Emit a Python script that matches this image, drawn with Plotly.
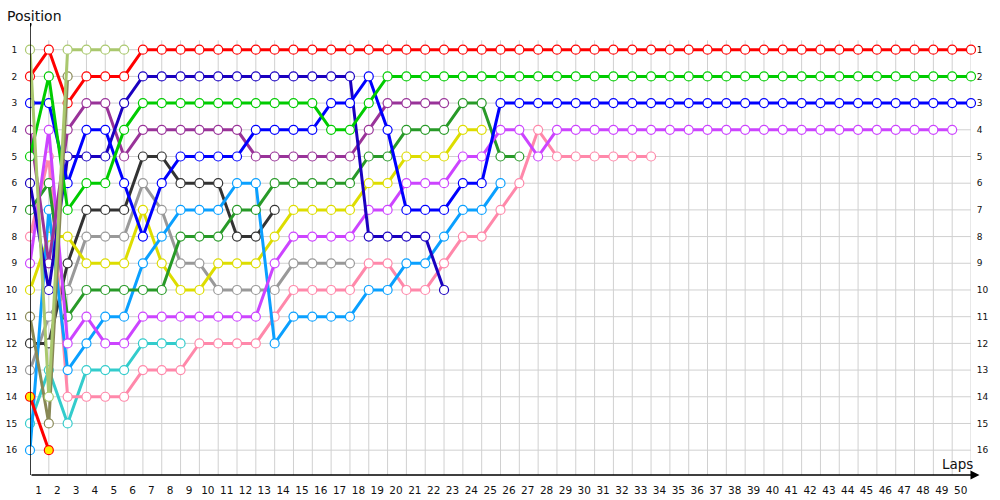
import plotly.graph_objects as go

# ---------------- data ----------------
laps = list(range(0, 51))                      # lap 0 = starting grid
lap_labels = [str(k) for k in range(1, 51)]
positions = list(range(1, 17))

# position per lap, starting at lap 0, until the driver's last lap
red_a = [2, 1, 3, 2, 2, 2, 1, 1, 1, 1, 1, 1, 1, 1, 1, 1, 1, 1, 1, 1, 1, 1, 1, 1, 1, 1,
         1, 1, 1, 1, 1, 1, 1, 1, 1, 1, 1, 1, 1, 1, 1, 1, 1, 1, 1, 1, 1, 1, 1, 1, 1]
green = [5, 2, 7, 6, 6, 4, 3, 3, 3, 3, 3, 3, 3, 3, 3, 3, 4, 4, 3, 2, 2, 2, 2, 2, 2, 2,
         2, 2, 2, 2, 2, 2, 2, 2, 2, 2, 2, 2, 2, 2, 2, 2, 2, 2, 2, 2, 2, 2, 2, 2, 2]
blue = [3, 3, 6, 4, 4, 6, 8, 6, 5, 5, 5, 5, 4, 4, 4, 4, 3, 3, 2, 4, 7, 7, 7, 6, 6, 3,
        3, 3, 3, 3, 3, 3, 3, 3, 3, 3, 3, 3, 3, 3, 3, 3, 3, 3, 3, 3, 3, 3, 3, 3, 3]
violet = [9, 4, 12, 11, 12, 12, 11, 11, 11, 11, 11, 11, 11, 9, 8, 8, 8, 8, 7, 7, 6, 6, 6,
          5, 5, 4, 4, 5, 4, 4, 4, 4, 4, 4, 4, 4, 4, 4, 4, 4, 4, 4, 4, 4, 4, 4, 4, 4, 4, 4]
pink = [8, 5, 14, 14, 14, 14, 13, 13, 13, 12, 12, 12, 12, 11, 10, 10, 10, 10, 9, 9, 10,
        10, 9, 8, 8, 7, 6, 4, 5, 5, 5, 5, 5, 5]
dark_green = [7, 6, 11, 10, 10, 10, 10, 10, 8, 8, 8, 7, 7, 6, 6, 6, 6, 6, 5, 5, 4, 4, 4,
              3, 3, 5, 5]
light_blue = [16, 7, 13, 12, 11, 11, 9, 8, 7, 7, 7, 6, 6, 12, 11, 11, 11, 11, 10, 10, 9,
              9, 8, 7, 7, 6]
yellow = [10, 8, 8, 9, 9, 9, 7, 9, 10, 10, 9, 9, 9, 8, 7, 7, 7, 7, 6, 6, 5, 5, 5, 4, 4]
purple = [4, 9, 4, 3, 3, 5, 4, 4, 4, 4, 4, 4, 5, 5, 5, 5, 5, 5, 4, 3, 3, 3, 3]
navy = [6, 10, 5, 5, 5, 3, 2, 2, 2, 2, 2, 2, 2, 2, 2, 2, 2, 2, 8, 8, 8, 8, 10]
grey = [13, 11, 10, 8, 8, 8, 6, 7, 9, 9, 10, 10, 10, 10, 9, 9, 9, 9]
black = [12, 12, 9, 7, 7, 7, 5, 5, 6, 6, 6, 8, 8, 7]
teal = [15, 13, 15, 13, 13, 13, 12, 12, 12]
light_olive = [1, 14, 1, 1, 1, 1]
olive = [11, 15, 2]
red_b = [14, 16]

series = [
    ("teal", teal, "#33cccc", "white"),
    ("grey", grey, "#999999", "white"),
    ("black", black, "#333333", "white"),
    ("yellow", yellow, "#dddd00", "white"),
    ("pink", pink, "#ff88aa", "white"),
    ("light_blue", light_blue, "#0aa0ff", "white"),
    ("dark_green", dark_green, "#289a28", "white"),
    ("violet", violet, "#cc44ff", "white"),
    ("purple", purple, "#993399", "white"),
    ("navy", navy, "#1a00c0", "white"),
    ("blue", blue, "#0000ff", "white"),
    ("green", green, "#00cc00", "white"),
    ("red_a", red_a, "#ff0000", "white"),
    ("red_b", red_b, "#ff0000", "#ffee00"),
    ("olive", olive, "#888855", "white"),
    ("light_olive", light_olive, "#aac86e", "white"),
]

Y_BOTTOM = 16.93
Y_TOP = 0.0

fig = go.Figure()
for name, vals, col, fill in series:
    fig.add_trace(go.Scatter(
        x=laps[:len(vals)], y=vals, mode="lines+markers", name=name,
        line=dict(color=col, width=3),
        marker=dict(symbol="circle", size=9, color=fill, line=dict(color=col, width=1.2)),
        cliponaxis=False, showlegend=False, hoverinfo="skip",
    ))

# helper trace so the right-hand axis is drawn
fig.add_trace(go.Scatter(x=[laps[0]], y=[positions[0]], yaxis="y2", mode="markers",
                         marker=dict(opacity=0), showlegend=False, hoverinfo="skip"))

shapes = []
grid_col = "#d0d0d0"
for k in laps:
    shapes.append(dict(type="line", xref="x", yref="y", x0=k, x1=k, y0=0.65, y1=Y_BOTTOM,
                       line=dict(color=grid_col, width=1), layer="below"))
for p in positions:
    shapes.append(dict(type="line", xref="x", yref="y", x0=0, x1=laps[-1], y0=p, y1=p,
                       line=dict(color=grid_col, width=1), layer="below"))
# y axis line
shapes.append(dict(type="line", xref="x", yref="y", x0=0, x1=0, y0=0.06, y1=Y_BOTTOM,
                   line=dict(color="black", width=1.5), layer="above"))
# small dot at the top of the y axis
shapes.append(dict(type="circle", xref="x", yref="y", x0=-0.08, x1=0.08, y0=-0.03, y1=0.15,
                   fillcolor="black", line=dict(width=0), layer="above"))

font_fam = "DejaVu Sans, Verdana, sans-serif"

annotations = [
    # x axis with arrow
    dict(x=50.45, y=Y_BOTTOM, xref="x", yref="y", ax=0, ay=Y_BOTTOM, axref="x", ayref="y",
         text="", showarrow=True, arrowhead=2, arrowsize=1.2, arrowwidth=1.5,
         arrowcolor="black"),
    dict(text="Position", xref="paper", yref="paper", x=-0.0266, y=1.016,
         xanchor="left", yanchor="middle", showarrow=False,
         font=dict(size=14, color="#111111", family=font_fam)),
    dict(text="Laps", xref="paper", yref="paper", x=1.004, y=0.024,
         xanchor="right", yanchor="middle", showarrow=False,
         font=dict(size=13.5, color="#111111", family=font_fam)),
]

fig.update_layout(
    width=1000, height=500,
    template="none",
    paper_bgcolor="white", plot_bgcolor="white",
    margin=dict(l=30, r=29, t=23, b=25),
    showlegend=False,
    shapes=shapes,
    annotations=annotations,
    xaxis=dict(range=[0, 50], showgrid=False, zeroline=False, showline=False,
               tickmode="array", tickvals=[k - 0.55 for k in range(1, 51)],
               ticktext=lap_labels, ticks="outside", ticklen=5,
               tickcolor="rgba(0,0,0,0)",
               tickfont=dict(size=10.5, color="#111111", family=font_fam)),
    yaxis=dict(range=[Y_BOTTOM, Y_TOP], showgrid=False, zeroline=False, showline=False,
               tickmode="array", tickvals=positions, ticktext=[str(p) for p in positions],
               ticks="outside", ticklen=10, tickcolor="rgba(0,0,0,0)",
               tickfont=dict(size=9, color="#111111", family=font_fam)),
    yaxis2=dict(range=[Y_BOTTOM, Y_TOP], overlaying="y", side="right", showgrid=False,
                zeroline=False, showline=False, tickmode="array", tickvals=positions,
                ticktext=[str(p) for p in positions], ticks="outside", ticklen=3,
                tickcolor="rgba(0,0,0,0)",
                tickfont=dict(size=9, color="#111111", family=font_fam)),
)

fig.write_html("out.html", config={"displayModeBar": False},
               post_script="document.body.style.margin='0px';")
